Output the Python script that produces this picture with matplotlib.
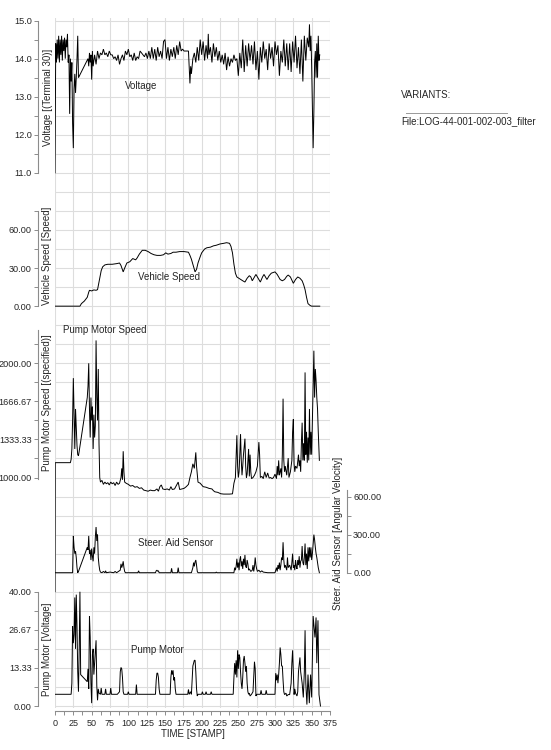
import numpy as np
import matplotlib
matplotlib.use('Agg')
import matplotlib.pyplot as plt
from matplotlib.ticker import MultipleLocator, FixedLocator, FixedFormatter

plt.rcParams['font.family'] = ['Liberation Sans', 'DejaVu Sans']

# ---------------- data ----------------
volt_t = [0, 1, 2, 3, 4, 5, 6, 7, 8, 9, 10, 11, 12, 13, 14, 15, 16, 17, 18, 19,
          20, 21, 22, 23, 24, 25, 26, 27, 28, 29, 30, 31, 32,
          45, 46, 47, 48, 49, 50, 51, 52, 54, 56, 58, 60, 62, 64, 66, 68, 70,
          72, 74, 76, 78, 80, 82, 84, 86, 88, 90, 92, 94, 96, 98, 100, 102,
          104, 106, 108, 110, 112, 114, 116, 118, 120, 122, 124, 126, 128, 130,
          132, 134, 136, 138, 140, 142, 144, 146, 148, 150, 152, 154, 156, 158,
          160, 162, 164, 166, 168, 170, 172, 174, 176,
          182, 183, 184, 185, 186, 188, 190, 192, 194, 196, 198, 200, 202, 204,
          206, 208, 209, 210, 212, 214, 216, 218, 220, 222, 224, 226, 228, 230,
          232, 234, 236, 238, 240, 242, 244, 246, 248, 250, 252, 254, 256, 258,
          260, 262, 264, 266, 268, 270, 272, 274, 276, 278, 280, 282, 284, 286,
          288, 290, 292, 294, 296, 298, 300, 302, 304, 306, 308, 310, 312, 314,
          316, 318, 320, 322, 324, 326, 328, 330, 332, 334, 336, 338, 340, 342,
          344, 346, 347, 348, 349, 350, 351, 352, 353, 354, 355, 356, 357, 358,
          359, 360, 361]
volt_v = [11.0, 14.4, 13.9, 14.5, 14.0, 14.6, 13.9, 14.5, 14.1, 14.6, 13.95, 14.5,
          14.2, 14.55, 14.0, 14.5, 14.3, 14.65, 13.9, 14.1,
          12.55, 14.0, 13.4, 13.9, 12.3, 11.65, 13.2, 13.6, 13.1, 13.5, 14.0, 14.6, 13.5,
          14.0, 13.8, 14.15, 13.9, 14.1, 13.45, 14.2, 13.8, 14.1, 13.85, 14.2, 14.0,
          14.15, 14.1, 14.25, 14.1, 14.15,
          14.05, 14.2, 14.1, 14.1, 14.0, 14.05, 13.95, 14.1, 13.85, 14.0, 14.1, 13.95,
          14.2, 14.1, 14.25, 14.05,
          14.1, 13.95, 14.15, 13.95, 14.05, 14.0, 14.2, 14.15, 14.1, 14.05, 14.15,
          14.0, 14.2, 14.0,
          14.3, 14.0, 14.25, 13.95, 14.3, 14.05, 14.2, 14.0, 14.45, 14.5, 14.0, 14.3,
          13.95, 14.25,
          14.05, 14.3, 14.0, 14.35, 14.1, 14.45, 14.2, 14.25, 14.2,
          14.2, 13.75, 13.35, 13.8, 13.6, 14.0, 14.15, 13.9, 14.3, 13.95, 14.5, 14.1,
          14.45, 13.95,
          14.35, 14.0, 14.65, 14.1, 14.3, 13.9, 14.4, 14.05, 14.3, 13.95, 14.2, 13.9,
          14.1, 13.85,
          14.15, 13.7, 14.05, 13.8, 14.0, 13.9, 14.1, 13.95, 14.0, 13.55, 14.15, 13.75,
          14.5, 13.65,
          14.35, 13.8, 14.4, 13.95, 14.35, 13.85, 14.45, 13.7, 14.2, 13.45, 14.3, 13.9,
          14.45, 14.0,
          14.25, 13.7, 14.4, 14.0, 14.3, 13.8, 14.45, 14.1, 14.35, 13.55, 14.2, 13.9,
          14.5, 13.8,
          14.4, 13.7, 14.4, 13.65, 14.45, 13.9, 14.6, 13.75, 14.3, 13.6, 14.5, 13.4,
          14.6, 13.95,
          14.55, 14.3, 14.9, 14.2, 14.6, 13.8, 12.8, 11.65, 12.6, 13.9, 14.2, 13.5,
          14.4, 13.5, 14.6, 13.95, 14.1]

speed_t = [0, 34, 36, 40, 44, 46, 47, 50, 53, 56, 58, 61, 63, 65, 68, 72, 78, 84,
           88, 90, 93, 95, 98, 102, 106, 108, 110, 112, 115, 119, 123, 127, 131,
           135, 139, 144, 148, 151, 154, 158, 161, 165, 170, 176, 182, 184, 186,
           189, 191, 193, 195, 198, 200, 204, 207, 212, 216, 220, 225, 230, 234,
           238, 240, 242, 244, 246, 248, 252, 256, 259, 262, 265, 267, 269, 272,
           274, 277, 280, 283, 285, 287, 289, 292, 295, 300, 303, 307, 310, 313,
           316, 318, 321, 325, 328, 331, 334, 337, 339, 341, 343, 345, 348, 350, 361]
speed_v = [0, 0, 2, 4, 7, 11, 12.5, 12, 12.8, 12.5, 13, 22, 28, 31, 32.5, 33, 33,
           33.5, 34, 32, 27, 30, 34, 35, 37.5, 37, 36.5, 38, 41, 44, 44, 43, 41.5,
           40.5, 40, 40, 40.5, 42, 41, 41.5, 42.5, 42.5, 43, 43, 42.5, 40, 37,
           31, 27, 29, 34, 39, 42, 45, 46, 46.5, 47.5, 48, 49, 49.5, 50,
           49.5, 47, 42, 33, 26, 23, 21.5, 20, 19, 22, 24, 23, 20, 23,
           25, 22, 19, 23, 25, 23, 21, 24, 26, 27, 25, 21, 20, 21,
           23.5, 24.5, 23, 18, 21, 23, 22, 20, 17, 13, 7, 2, 0.5, 0, 0]

pspeed_t = [0, 0.3, 21, 22, 23, 24, 25, 26, 27, 28, 29, 30, 31, 32, 33,
            44, 45, 46, 47, 48, 49, 50, 51, 52, 53, 54, 55, 56, 57, 58, 59, 60, 61,
            62, 64, 66, 68, 70, 72, 74, 76, 78, 80, 82, 84, 86, 88, 90, 91, 92, 93,
            94, 95, 97, 100, 103, 106, 109, 112, 115, 118, 121, 124, 127, 130, 133,
            136, 139, 141, 143, 145, 147, 150, 153, 156, 158, 160, 163, 166, 168,
            170, 173, 176, 179, 182, 184, 186, 188, 190, 192, 193, 195, 198, 202,
            206, 210, 214, 216, 218, 222, 226, 230, 234, 238, 242, 244, 246, 247,
            248, 249, 250, 251, 252, 253, 254, 255, 256, 257, 259, 260, 261, 262,
            264, 265, 266, 267, 268, 270, 272, 274, 276, 278, 279, 280, 282, 284,
            286, 288, 290, 292, 294, 296, 298, 300, 302, 303, 304, 305, 306, 308,
            309, 310, 311, 312, 313, 314, 316, 317, 318, 319, 321, 323, 324, 325,
            326, 327, 328, 330, 332, 333, 334, 335, 336, 337, 338, 339, 340, 341,
            342, 343, 344, 345, 346, 347, 348, 349, 350, 351, 352, 353, 354, 355,
            356, 357, 358, 359, 360.5]
pspeed_v = [0, 1130, 1130, 1160, 1250, 1500, 1870, 1550, 1250, 1600, 1450, 1280,
            1200, 1190, 1230,
            1700, 1800, 2000, 1600, 1350, 1700, 1500, 1620, 1250, 1550, 1350, 1450,
            2200, 1700, 1500, 1950, 1300, 1000,
            960, 975, 940, 960, 945, 955, 935, 960, 945, 955, 930, 960, 940, 950,
            1000, 1080, 980, 1230,
            1050, 960, 950, 940, 925, 930, 915, 920, 905, 910, 890, 885, 880, 890,
            885,
            885, 900, 880, 920, 935, 900, 895, 900, 890, 920, 895, 900, 935, 960,
            895, 900, 905, 920, 940, 1000, 1050, 1120, 1080, 1220, 1100, 960, 950,
            920,
            915, 905, 900, 885, 875, 870, 858, 855, 855, 855, 857, 950, 1000, 1200,
            1370, 1100, 1000, 1050, 1200, 1380, 1150, 1020, 1100, 1200, 1340, 1100,
            1000, 1030,
            1250, 1010, 1200, 1050, 990, 1000, 1020, 1050, 1100, 1310, 1200, 1000,
            1010, 990,
            1050, 1000, 1040, 995, 1000, 990, 1000, 1030, 990, 1100, 1020, 1150,
            1020, 1080,
            1000, 1200, 1690, 1150, 1050, 1100, 1020, 1100, 1170, 1000, 1050, 1150,
            1400, 1510,
            1120, 1050, 1100, 1080, 1200, 1100, 1150, 1050, 1300, 1480, 1150, 1300,
            1150, 1920,
            1200, 1400, 1130, 1350, 1150, 1600, 1200, 1400, 1200, 1500, 1800, 2110,
            1700, 1950,
            1850, 1700, 1600, 1400, 1150]

steer_t = [0, 24, 25, 26, 27, 28, 29, 30, 31, 32,
           44, 45, 46, 47, 48, 49, 50, 51, 52, 53, 54, 55, 56, 57, 58, 59, 60, 61,
           62, 64, 66, 68, 69, 70, 75, 80, 82, 84, 89, 90, 91, 92, 93, 94, 95, 96,
           113, 114, 115, 137, 138, 139, 140, 141, 142, 158, 159, 160, 167, 168, 169,
           186, 188, 189, 190, 191, 192, 193, 194, 195, 219, 220, 221,
           244, 245, 246, 247, 248, 249, 250, 251, 252, 253, 254, 255, 256, 257,
           258, 259, 260, 261, 262, 263, 264, 265, 267, 269, 270, 271, 272, 273,
           274, 275, 276, 278, 280, 282, 284, 290, 300, 301, 302, 303, 304, 305,
           306, 307, 308, 309, 310, 311, 312, 313, 314, 316, 317, 318, 320, 322,
           323, 324, 325, 326, 327, 328, 329, 330, 331, 332, 333, 334, 335, 336,
           337, 338, 339, 340, 341, 342, 343, 344, 345, 346, 347, 348, 349, 350,
           351, 352, 353, 354, 355, 356, 357, 358, 359, 360.5]
steer_v = [0, 0, 290, 200, 150, 170, 120, 40, 0, 10,
           200, 180, 290, 150, 180, 100, 190, 130, 90, 200, 150, 280, 360, 250,
           300, 120, 60, 20,
           5, 0, 10, 0, 15, 0, 5, 0, 10, 0, 20, 70, 40, 60, 90, 40, 10, 0,
           0, 15, 0, 0, 15, 20, 12, 15, 0, 0, 35, 0, 0, 40, 0,
           0, 40, 80, 50, 85, 100, 60, 10, 0, 0, 5, 0,
           0, 40, 20, 50, 110, 40, 80, 20, 100, 130, 50, 90, 30, 110,
           60, 140, 50, 40, 100, 70, 20, 30, 10, 20, 60, 10, 50, 120,
           60, 30, 10, 20, 5, 15, 5, 0, 0, 20, 40, 10, 60, 30,
           80, 20, 60, 120, 100, 240, 100, 40, 60, 20, 120, 40, 60, 20,
           80, 150, 40, 60, 20, 100, 50, 30, 100, 60, 130, 40, 90, 100,
           210, 80, 60, 120, 230, 60, 150, 30, 200, 90, 200, 120, 200, 100,
           150, 220, 300, 260, 200, 150, 120, 80, 40, 0]

pmotor_t = [0, 22, 23, 24, 25, 26, 27, 28, 29, 30, 31, 32, 33, 34, 35,
            44, 45, 46, 47, 48, 49, 50, 51, 52, 53, 54, 55, 56, 57, 58, 59, 60, 62,
            63, 64, 68, 69, 70, 75, 76, 77, 85, 88, 89, 90, 91, 92, 93, 94, 99, 100, 101,
            110, 111, 112, 137, 138, 139, 140, 141, 142, 143,
            157, 158, 159, 160, 161, 162, 163, 164, 165,
            181, 182, 183, 185, 186, 187, 188, 189, 190, 191, 192, 193, 194, 195,
            200, 201, 202, 205, 206, 207, 212, 213, 214, 243,
            244, 245, 246, 247, 248, 249, 250, 251, 252, 253, 254, 255,
            256, 257, 258, 259, 260, 261, 262, 263, 264, 265, 266, 268,
            270, 271, 272, 273, 274, 275, 280, 281, 282, 287, 288, 289, 300,
            301, 302, 303, 304, 305, 306, 307, 308, 309, 310, 311, 312, 313, 315, 316, 318,
            320, 322, 323, 324, 325, 326, 327, 328, 330, 331, 332, 334, 335, 336, 337,
            338.6, 340, 341, 342, 343.5, 345, 346.8, 348.5, 350, 352, 354.5, 356,
            357, 358.6, 360, 362]
pmotor_v = [4.1, 4.1, 8, 28, 22, 25, 38, 20, 39, 28, 12, 5, 20, 40, 11,
            8.5, 13, 6, 31.5, 24, 8, 1, 18, 20, 11, 15, 19, 23, 7, 2, 6, 4.5, 4.1,
            6.3, 4.1, 4.1, 6, 4.1, 4.1, 6.3, 4.1, 4.1, 5, 12, 13.5, 13, 10, 5, 4.1, 4.1, 5, 4.1,
            4.1, 7.5, 4.1, 4.1, 9, 11.5, 11.5, 10, 6, 4.1,
            4.1, 10, 12.5, 11, 12.5, 9, 10, 6, 4.1,
            4.1, 5.8, 4.1, 5, 4.1, 9, 14, 15, 16, 16, 12, 6, 3.5, 4.1,
            4.1, 5, 4.1, 4.1, 5, 4.1, 4.1, 5, 4.1, 4.1,
            10, 15, 11, 16, 10, 19.5, 13, 18, 17, 12, 8, 6,
            10, 16, 17.5, 15, 12, 14, 8, 5, 4.1, 4.5, 3.5, 4.1,
            5, 10, 15.5, 13, 3.5, 4.1, 4.1, 5.5, 4.1, 4.1, 5.5, 4.1, 4.1,
            11.5, 9, 11, 8, 11, 15, 20.5, 18, 14, 14, 9, 5, 4, 4.5, 3.5, 4,
            4, 8, 15, 19.5, 12, 4, 6, 4.5, 3.5, 5, 12, 17, 12, 10, 8,
            3, 12, 26.5, 8, 0.5, 11, 1, 11, 3, 31.5, 24, 31,
            15, 30, 4, 0]

x_ticks = [0, 25, 50, 75, 100, 125, 150, 175, 200, 225, 250, 275, 300, 325, 350, 375]

# ---------------- layout ----------------
W, H = 551, 750
fig = plt.figure(figsize=(W / 100, H / 100), dpi=100)
fig.patch.set_facecolor('white')


def fx(px):
    return px / W


def fy(py):
    return 1 - py / H


PX0, PX1 = 55, 330
PY0, PY1 = 18, 708
GU = 19.04          # pixels per grid unit
YZERO = 706         # pixel row of grid unit 0
gu_top = (YZERO - PY0) / GU
gu_bot = (YZERO - PY1) / GU
rect = [fx(PX0), fy(PY1), (PX1 - PX0) / W, (PY1 - PY0) / H]

SPINE_C = '#8c8c8c'
TXT_C = '#262626'

# background grid axes (carries the time axis)
axg = fig.add_axes(rect)
axg.set_xlim(0, 375)
axg.set_ylim(gu_bot, gu_top)
axg.xaxis.set_major_locator(FixedLocator(x_ticks))
axg.xaxis.set_minor_locator(MultipleLocator(12.5))
axg.yaxis.set_major_locator(MultipleLocator(1))
axg.grid(True, which='major', color='#dddddd', lw=0.8)
axg.set_axisbelow(True)
for s in ['top', 'right', 'left']:
    axg.spines[s].set_visible(False)
axg.spines['bottom'].set_position(('outward', 2.2))
axg.spines['bottom'].set_color(SPINE_C)
axg.spines['bottom'].set_linewidth(0.8)
axg.tick_params(axis='y', left=False, labelleft=False)
axg.tick_params(axis='x', which='both', direction='out', length=3.2, width=0.7,
                color=SPINE_C, labelsize=6.5, labelcolor=TXT_C, pad=2.5)
axg.set_xlabel('TIME [STAMP]', fontsize=7, color=TXT_C, labelpad=1)


def panel(t, v, v0, g0, k, bounds, majors, labels, minors, side='left'):
    ax = fig.add_axes(rect, facecolor='none')
    ax.set_xlim(0, 375)
    ax.set_ylim(v0 + (gu_bot - g0) * k, v0 + (gu_top - g0) * k)
    ax.plot(t, v, color='black', lw=0.7, solid_joinstyle='miter')
    ax.xaxis.set_visible(False)
    for s in ['top', 'right', 'left', 'bottom']:
        ax.spines[s].set_visible(s == side)
    sp = ax.spines[side]
    sp.set_position(('outward', 12.5))
    sp.set_bounds(*bounds)
    sp.set_color(SPINE_C)
    sp.set_linewidth(0.8)
    if side == 'right':
        ax.yaxis.tick_right()
    ax.yaxis.set_major_locator(FixedLocator(majors))
    ax.yaxis.set_major_formatter(FixedFormatter(labels))
    ax.yaxis.set_minor_locator(FixedLocator(minors))
    ax.tick_params(axis='y', which='both', direction='out', length=3.2, width=0.7,
                   color=SPINE_C, labelsize=6.6, labelcolor=TXT_C, pad=1.0)
    return ax


# Voltage: 15 at gu 36, 0.5 V per gu
panel(volt_t, volt_v, 15.0, 36, 0.5, (11, 15),
      [11, 12, 13, 14, 15], ['11.0', '12.0', '13.0', '14.0', '15.0'],
      [11.5, 12.5, 13.5, 14.5])
# Vehicle speed: 0 at gu 21, 15 per gu
panel(speed_t, speed_v, 0.0, 21, 15.0, (0, 75),
      [0, 30, 60], ['0.00', '30.00', '60.00'], [15, 45, 75])
# Pump motor speed: 1000 at gu 12, 166.67 per gu
panel(pspeed_t, pspeed_v, 1000.0, 12, 1000 / 6, (990, 2291),
      [1000, 4000 / 3, 5000 / 3, 2000], ['1000.00', '1333.33', '1666.67', '2000.00'],
      [7000 / 6, 1500, 11000 / 6, 13000 / 6])
# Steer aid sensor: 0 at gu 7, 150 per gu (right axis)
panel(steer_t, steer_v, 0.0, 7, 150.0, (0, 650),
      [0, 300, 600], ['0.00', '300.00', '600.00'], [150, 450], side='right')
# Pump motor voltage: 0 at gu 0, 6.667 per gu
panel(pmotor_t, pmotor_v, 0.0, 0, 20 / 3, (0, 40),
      [0, 40 / 3, 80 / 3, 40], ['0.00', '13.33', '26.67', '40.00'],
      [20 / 3, 20, 100 / 3])

# axis titles (between spine and plot)
ylab = dict(rotation=90, ha='center', va='center', fontsize=7, color=TXT_C)
fig.text(fx(48), fy(97), 'Voltage [(Terminal 30)]', **ylab)
fig.text(fx(47), fy(256), 'Vehicle Speed [Speed]', **ylab)
fig.text(fx(47.5), fy(403), 'Pump Motor Speed [(specified)]', **ylab)
fig.text(fx(47), fy(649), 'Pump Motor [Voltage]', **ylab)
fig.text(fx(338), fy(533), 'Steer. Aid Sensor [Angular Velocity]', **ylab)

# in-plot series names
nlab = dict(ha='center', va='center', fontsize=7, color=TXT_C)
fig.text(fx(141), fy(86), 'Voltage', **nlab)
fig.text(fx(169), fy(277.5), 'Vehicle Speed', **nlab)
fig.text(fx(105), fy(330), 'Pump Motor Speed', **nlab)
fig.text(fx(176), fy(542.5), 'Steer. Aid Sensor', **nlab)
fig.text(fx(157.5), fy(650), 'Pump Motor', **nlab)

# variants box on the right
fig.text(fx(401), fy(95.5), 'VARIANTS:', ha='left', va='center', fontsize=7, color=TXT_C)
fig.add_artist(plt.Line2D([fx(406), fx(507)], [fy(112.7), fy(112.7)],
                          color='#999999', lw=0.7))
fig.text(fx(401), fy(121), 'File:LOG-44-001-002-003_filter', ha='left', va='center',
         fontsize=7, color=TXT_C)

fig.savefig('out.png', dpi=100, facecolor='white')
